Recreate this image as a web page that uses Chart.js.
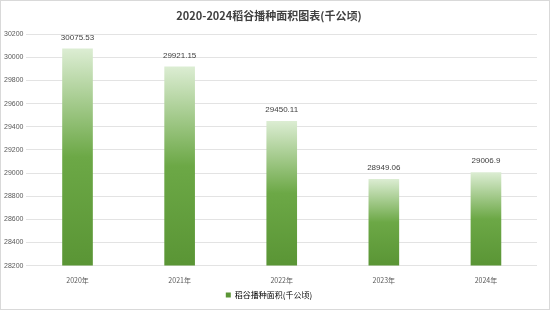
<!DOCTYPE html>
<html>
<head>
<meta charset="utf-8">
<script src="https://cdn.jsdelivr.net/npm/chart.js@4/dist/chart.umd.min.js"></script>
<style>
  body { margin: 0; background: #fff; }
  #wrap { width: 548px; height: 308px; border: 1px solid #d9d9d9; }
</style>
</head>
<body>
<div id="wrap"><canvas id="barchart" width="548" height="308"></canvas></div>
<script>
const years = ['2020年', '2021年', '2022年', '2023年', '2024年'];
const area = [30075.53, 29921.15, 29450.11, 28949.06, 29006.9];
const yTicks = [28200, 28400, 28600, 28800, 29000, 29200, 29400, 29600, 29800, 30000, 30200];

// labels above each bar
const topLabels = {
    id: 'topLabels',
    afterDatasetsDraw(chart) {
        const c = chart.ctx;
        c.save();
        c.font = '8px "Liberation Sans", sans-serif';
        c.fillStyle = '#404040';
        c.textAlign = 'center';
        c.textBaseline = 'bottom';
        chart.getDatasetMeta(0).data.forEach((bar, i) => {
            c.fillText(String(area[i]), bar.x, bar.y - 7);
        });
        c.restore();
    }
};

function barFill(context) {
    const chart = context.chart;
    const y = chart.scales.y;
    if (!chart.chartArea || !y) return '#70ad47';
    const top = y.getPixelForValue(area[context.dataIndex]);
    const bottom = y.getPixelForValue(y.min);
    const g = chart.ctx.createLinearGradient(0, top, 0, bottom);
    g.addColorStop(0, '#dcedd3');
    g.addColorStop(0.5, '#6ca846');
    g.addColorStop(1, '#5a9535');
    return g;
}

const ctx = document.getElementById('barchart').getContext('2d');
const myChart = new Chart(ctx, {
    type: 'bar',
    data: {
        labels: years,
        datasets: [{
            label: '稻谷播种面积(千公顷)',
            data: area,
            backgroundColor: barFill,
            borderWidth: 0,
            barPercentage: 0.6,
            categoryPercentage: 0.5
        }]
    },
    options: {
        responsive: false,
        animation: false,
        layout: { padding: { left: 0, right: 12, top: 0, bottom: 0 } },
        plugins: {
            title: {
                display: true,
                text: '2020-2024稻谷播种面积图表(千公顷)',
                color: '#404040',
                font: { size: 11, weight: 'bold', family: '"Noto Sans CJK SC", sans-serif' },
                padding: { top: 8, bottom: 12 }
            },
            legend: {
                position: 'bottom',
                labels: {
                    boxWidth: 5,
                    boxHeight: 5,
                    color: '#595959',
                    font: { size: 8, family: '"Noto Sans CJK SC", sans-serif' },
                    padding: 3,
                    generateLabels: () => [{ text: '稻谷播种面积(千公顷)', fillStyle: '#5a9535', strokeStyle: '#5a9535', lineWidth: 0 }]
                }
            },
            tooltip: { enabled: false }
        },
        scales: {
            x: {
                grid: { display: false },
                border: { display: false },
                ticks: { color: '#595959', font: { size: 7, family: '"Noto Sans CJK SC", sans-serif' }, padding: 3 }
            },
            y: {
                min: 28200,
                max: 30200,
                afterBuildTicks: axis => { axis.ticks = yTicks.map(v => ({ value: v })); },
                grid: { color: '#e3e3e3', drawTicks: false },
                border: { display: false },
                ticks: {
                    color: '#595959',
                    font: { size: 7, family: '"Liberation Sans", sans-serif' },
                    padding: 3,
                    callback: v => String(v)
                }
            }
        }
    },
    plugins: [topLabels]
});
</script>
</body>
</html>
